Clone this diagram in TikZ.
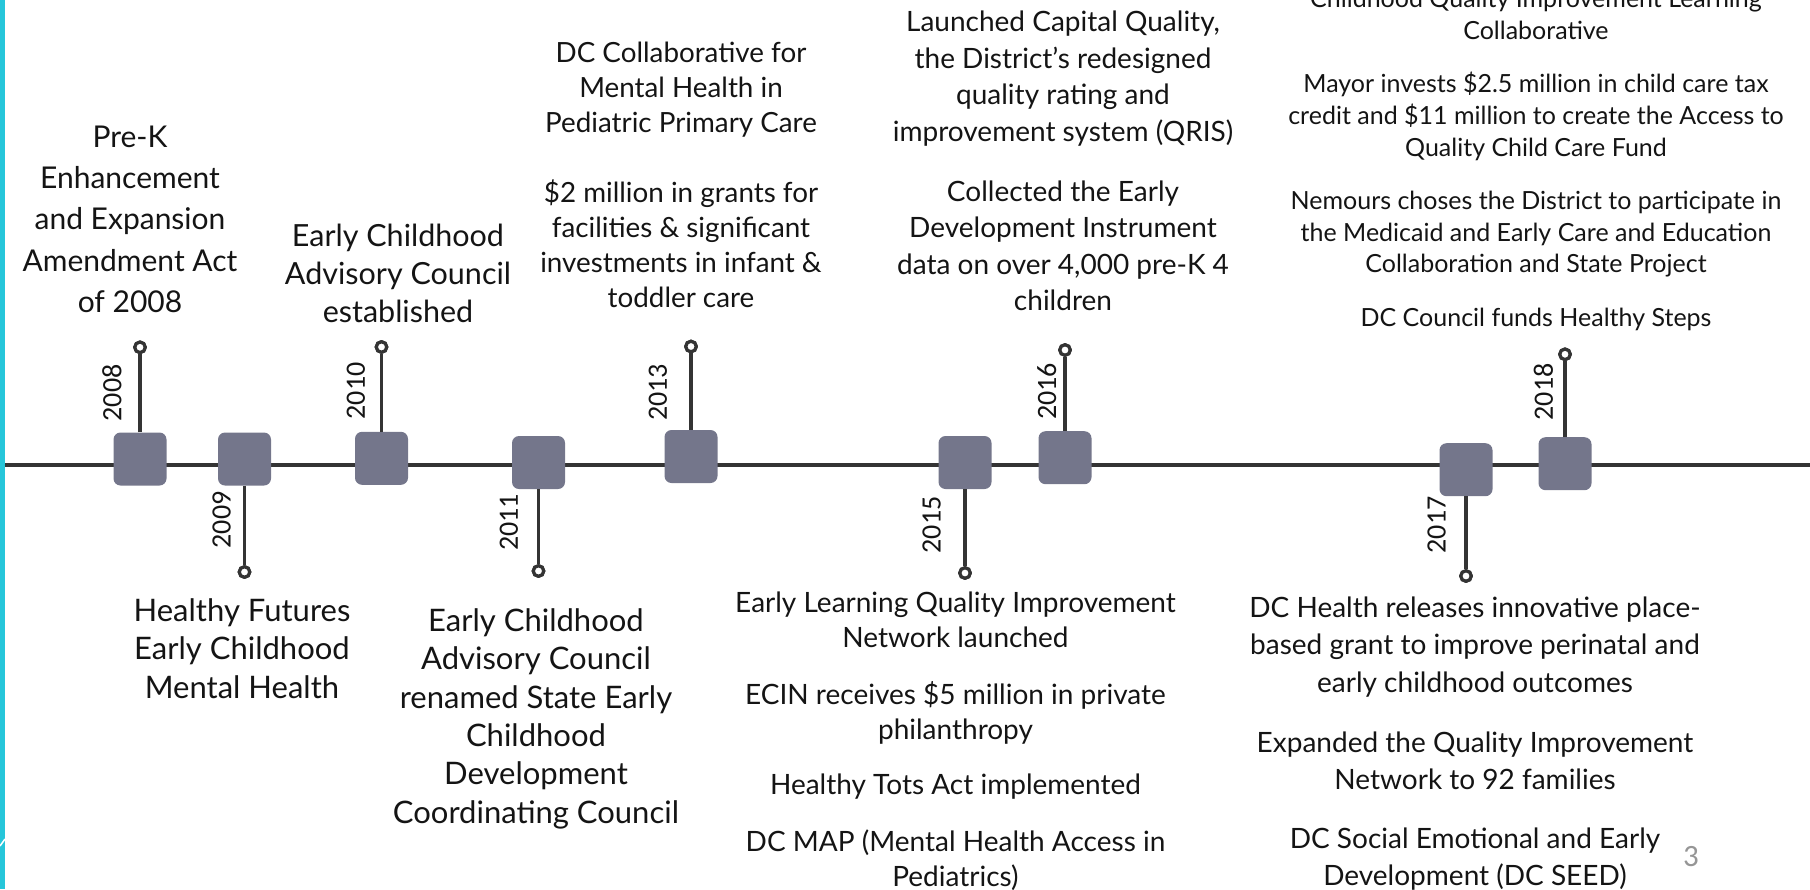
\documentclass[tikz,border=0pt]{standalone}
\usepackage{fontspec}
\setmainfont{Lato}
\newfontfamily\yearfont{Carlito}
\definecolor{boxfill}{RGB}{116,118,139}
\definecolor{stemcol}{RGB}{52,52,52}
\definecolor{barcyan}{RGB}{38,198,218}
\definecolor{pagegray}{RGB}{150,150,150}
\definecolor{ink}{RGB}{20,20,20}

\begin{document}
\begin{tikzpicture}[x=1pt,y=-1pt,
  yearbox/.style={rectangle, rounded corners=7pt, fill=boxfill,
    minimum width=53pt, minimum height=53pt, inner sep=0pt},
  pin/.style={circle, draw=stemcol, line width=3.2pt, fill=white,
    minimum size=10.5pt, inner sep=0pt},
  stemline/.style={draw=stemcol, line width=3.5pt},
  axisline/.style={draw=stemcol, line width=4pt},
  yearlabel/.style={rotate=90, font=\yearfont\fontsize{28}{28}\selectfont,
    text=ink, inner sep=0pt},
  event/.style={align=center, anchor=north, inner sep=0pt, text=ink},
]
\useasboundingbox (0,0) rectangle (1810,889);
\clip (0,0) rectangle (1810,889);

% left accent bar
\fill[barcyan] (0,0) rectangle (5,889);
\draw[white, line width=1.5pt] (0,846) -- (5,839);

% main axis
\coordinate (axisL) at (5,464.5);
\coordinate (axisR) at (1810,464.5);
\draw[axisline] (axisL) -- (axisR);

% year markers
\node[yearbox] (b2008) at (140,459) {};
\node[yearbox] (b2009) at (244.5,459) {};
\node[yearbox] (b2010) at (381.5,458.3) {};
\node[yearbox] (b2011) at (538.5,462.5) {};
\node[yearbox] (b2013) at (691,456.5) {};
\node[yearbox] (b2015) at (965,462.5) {};
\node[yearbox] (b2016) at (1065,457.7) {};
\node[yearbox] (b2017) at (1466,469.7) {};
\node[yearbox] (b2018) at (1565,463.7) {};

% pins
\node[pin] (p2008) at (140,347.3) {};
\node[pin] (p2009) at (244.5,572) {};
\node[pin] (p2010) at (381.5,347) {};
\node[pin] (p2011) at (538.5,571) {};
\node[pin] (p2013) at (691,346.5) {};
\node[pin] (p2015) at (965,573) {};
\node[pin] (p2016) at (1065,350) {};
\node[pin] (p2017) at (1466,576) {};
\node[pin] (p2018) at (1565,354.3) {};

\foreach \yr in {2008,2009,2010,2011,2013,2015,2016,2017,2018}
  \draw[stemline] (b\yr) -- (p\yr);
\foreach \yr in {2008,2009,2010,2011,2013,2015,2016,2017,2018}
  \node[pin] at (p\yr) {};

% year labels
\node[yearlabel] (l2008) at (112,393) {2008};
\node[yearlabel] (l2009) at (221.7,520) {2009};
\node[yearlabel] (l2010) at (356,391) {2010};
\node[yearlabel] (l2011) at (509,522.5) {2011};
\node[yearlabel] (l2013) at (658,392.5) {2013};
\node[yearlabel] (l2015) at (931.7,525) {2015};
\node[yearlabel] (l2016) at (1046.7,391.5) {2016};
\node[yearlabel] (l2017) at (1436.7,525) {2017};
\node[yearlabel] (l2018) at (1543.3,392) {2018};

% events above the axis
\node[event, font=\fontsize{30}{41.25}\selectfont] (t2008) at (130,125.6)
  {Pre-K\\Enhancement\\and Expansion\\Amendment Act\\of 2008};
\node[event, font=\fontsize{30.5}{38.3}\selectfont] (t2010) at (398,223.7)
  {Early Childhood\\Advisory Council\\established};
\node[event, font=\fontsize{27.8}{35.1}\selectfont] (t2013) at (681,41.5)
  {DC Collaborative for\\Mental Health in\\Pediatric Primary Care\\[35.1pt]
   \$2 million in grants for\\facilities \& significant\\investments in infant \&\\toddler care};
\node[event, font=\fontsize{28}{36.5}\selectfont] (t2016) at (1063,11)
  {Launched Capital Quality,\\the District’s redesigned\\quality rating and\\improvement system (QRIS)\\[23.5pt]
   Collected the Early\\Development Instrument\\data on over 4,000 pre-K 4\\children};
\node[event, font=\fontsize{25}{31.7}\selectfont] (t2018) at (1536,-11)
  {Childhood Quality Improvement Learning\\Collaborative\\[21.6pt]
   Mayor invests \$2.5 million in child care tax\\credit and \$11 million to create the Access to\\Quality Child Care Fund\\[21.6pt]
   Nemours choses the District to participate in\\the Medicaid and Early Care and Education\\Collaboration and State Project\\[21.6pt]
   DC Council funds Healthy Steps};

% events below the axis
\node[event, font=\fontsize{31}{38.3}\selectfont] (t2009) at (242,598.5)
  {Healthy Futures\\Early Childhood\\Mental Health};
\node[event, font=\fontsize{31}{38.3}\selectfont] (t2011) at (536,608.5)
  {Early Childhood\\Advisory Council\\renamed State Early\\Childhood\\Development\\Coordinating Council};
\node[event, font=\fontsize{28}{35}\selectfont] (t2015) at (955.5,591.4)
  {Early Learning Quality Improvement\\Network launched\\[22.5pt]
   ECIN receives \$5 million in private\\philanthropy\\[20pt]
   Healthy Tots Act implemented\\[21.7pt]
   DC MAP (Mental Health Access in\\Pediatrics)};
\node[event, font=\fontsize{28}{37.5}\selectfont] (t2017) at (1475,596.4)
  {DC Health releases innovative place-\\based grant to improve perinatal and\\early childhood outcomes\\[22.5pt]
   Expanded the Quality Improvement\\Network to 92 families\\[21pt]
   DC Social Emotional and Early\\Development (DC SEED)};

% page number
\node[font=\yearfont\fontsize{31}{31}\selectfont, text=pagegray, inner sep=0pt] (pnum) at (1691,856.7) {3};
\end{tikzpicture}
\end{document}
